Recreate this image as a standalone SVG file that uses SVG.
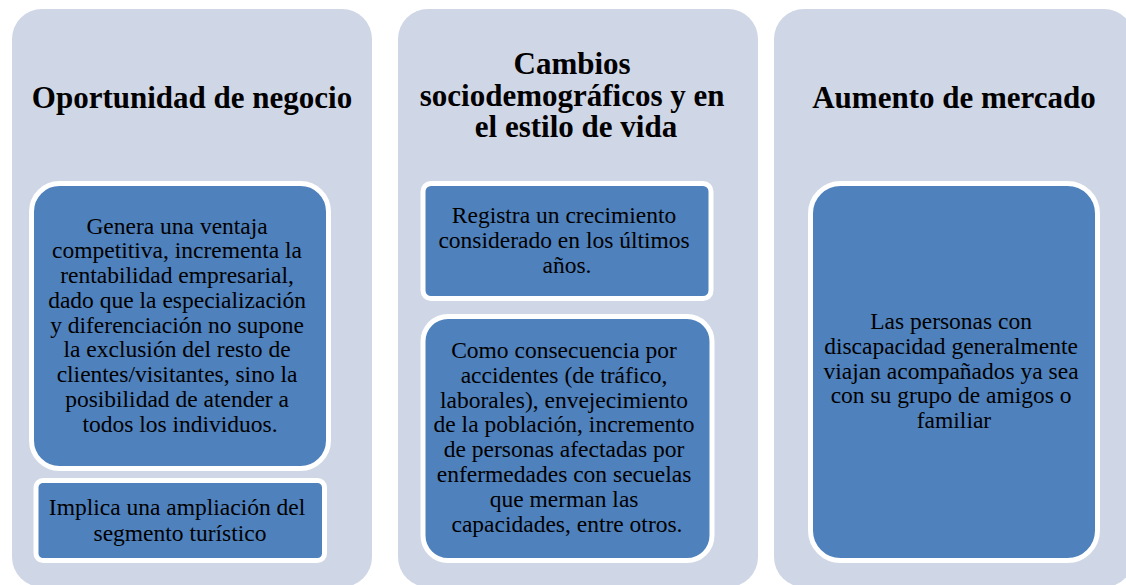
<svg xmlns="http://www.w3.org/2000/svg" width="1126" height="585" viewBox="0 0 1126 585">
<style>
.panel{fill:#CFD6E5;}
.box{fill:#4F81BD;stroke:#FFFFFF;stroke-width:5;}
.title{font-family:"Liberation Serif","Times New Roman",serif;font-weight:bold;font-size:31px;fill:#000;text-anchor:middle;}
.body{font-family:"Liberation Serif","Times New Roman",serif;font-size:23.5px;fill:#000;text-anchor:middle;}
</style>
<rect width="1126" height="585" fill="#FFFFFF"/>
<g id="panel1">
<rect class="panel" x="12" y="9" width="360" height="578" rx="30"/>
<text class="title" x="192" y="108">Oportunidad de negocio</text>
</g>
<g id="box1a">
<rect class="box" x="31.5" y="183.5" width="297" height="285" rx="28"/>
<text class="body" x="180" y="233.5">
<tspan x="180" y="233.5">Genera una ventaja</tspan>
<tspan x="180" y="258.3">competitiva, incrementa la</tspan>
<tspan x="180" y="283">rentabilidad empresarial,</tspan>
<tspan x="180" y="307.8">dado que la especialización</tspan>
<tspan x="180" y="332.5">y diferenciación no supone</tspan>
<tspan x="180" y="357.3">la exclusión del resto de</tspan>
<tspan x="180" y="382">clientes/visitantes, sino la</tspan>
<tspan x="180" y="406.8">posibilidad de atender a</tspan>
<tspan x="180" y="431.5">todos los individuos.</tspan>
</text>
</g>
<g id="box1b">
<rect class="box" x="36" y="480.5" width="288.5" height="80" rx="7"/>
<text class="body" x="180" y="515">
<tspan x="180" y="515">Implica una ampliación del</tspan>
<tspan x="180" y="540.5">segmento turístico</tspan>
</text>
</g>
<g id="panel2">
<rect class="panel" x="398" y="9" width="360" height="578" rx="30"/>
<text class="title" x="576" y="74">
<tspan x="576" y="74">Cambios</tspan>
<tspan x="576" y="105.5">sociodemográficos y en</tspan>
<tspan x="576" y="137">el estilo de vida</tspan>
</text>
</g>
<g id="box2a">
<rect class="box" x="423" y="183.5" width="288" height="115" rx="8"/>
<text class="body" x="567" y="223.3">
<tspan x="567" y="223.3">Registra un crecimiento</tspan>
<tspan x="567" y="248.3">considerado en los últimos</tspan>
<tspan x="567" y="273.3">años.</tspan>
</text>
</g>
<g id="box2b">
<rect class="box" x="423" y="316.5" width="289" height="244" rx="25"/>
<text class="body" x="567" y="358">
<tspan x="567" y="358">Como consecuencia por</tspan>
<tspan x="567" y="382.8">accidentes (de tráfico,</tspan>
<tspan x="567" y="407.6">laborales), envejecimiento</tspan>
<tspan x="567" y="432.4">de la población, incremento</tspan>
<tspan x="567" y="457.2">de personas afectadas por</tspan>
<tspan x="567" y="482">enfermedades con secuelas</tspan>
<tspan x="567" y="506.8">que merman las</tspan>
<tspan x="567" y="531.6">capacidades, entre otros.</tspan>
</text>
</g>
<g id="panel3">
<rect class="panel" x="774" y="9" width="360" height="578" rx="30"/>
<text class="title" x="954" y="108">Aumento de mercado</text>
</g>
<g id="box3">
<rect class="box" x="810.5" y="183.5" width="287" height="377" rx="30"/>
<text class="body" x="954" y="329.3">
<tspan x="954" y="329.3">Las personas con</tspan>
<tspan x="954" y="353.9">discapacidad generalmente</tspan>
<tspan x="954" y="378.5">viajan acompañados ya sea</tspan>
<tspan x="954" y="403.1">con su grupo de amigos o</tspan>
<tspan x="954" y="427.7">familiar</tspan>
</text>
</g>
<g id="connectors"></g>
</svg>
